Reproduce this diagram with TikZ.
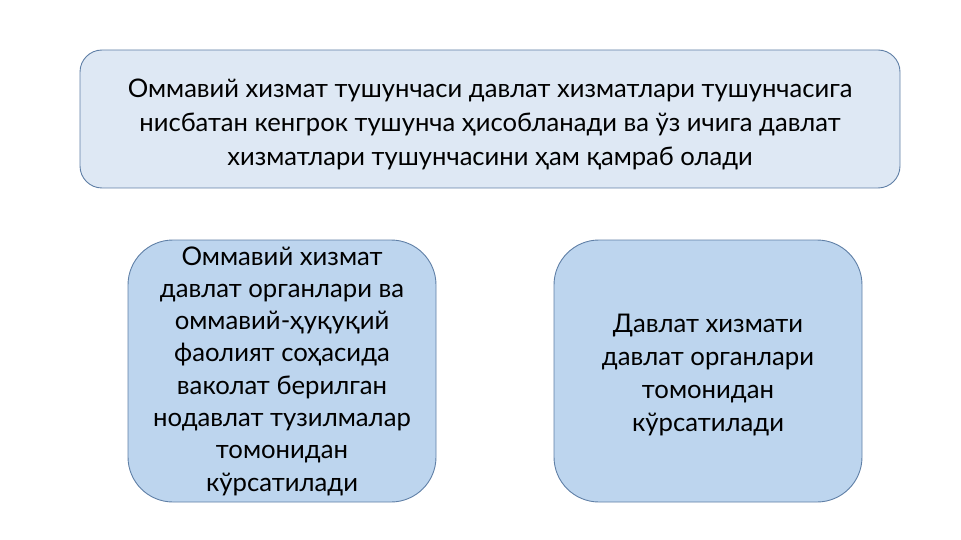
\documentclass[tikz,border=0pt]{standalone}
\usepackage{fontspec}
\setmainfont{Lato}
\usetikzlibrary{positioning}

\definecolor{topfill}{HTML}{DEE8F4}
\definecolor{boxfill}{HTML}{BDD5EE}
\definecolor{boxline}{HTML}{5F7FA6}

\tikzset{
  topbox/.style={draw=boxline, fill=topfill, line width=0.9pt, rounded corners=22pt,
    minimum width=820pt, minimum height=138pt, inner sep=0pt},
  sidebox/.style={draw=boxline, fill=boxfill, line width=0.9pt, rounded corners=45pt,
    minimum width=308pt, minimum height=262pt, inner sep=0pt},
  boxtext/.style={align=center, inner sep=0pt}
}

\begin{document}
\begin{tikzpicture}[x=1pt, y=-1pt]
\useasboundingbox (0,0) rectangle (961,540);

\node[topbox] (wide) at (490,119) {};
\node[boxtext, font=\fontsize{25.6}{34}\selectfont] at ([yshift=-5pt]wide.center) {Оммавий хизмат тушунчаси давлат хизматлари тушунчасига\\
нисбатан кенгрок тушунча ҳисобланади ва ўз ичига давлат\\
хизматлари тушунчасини ҳам қамраб олади};

\node[sidebox] (public) at (282,371) {};
\node[boxtext, font=\fontsize{25.7}{32.3}\selectfont] at (public.center) {Оммавий хизмат\\
давлат органлари ва\\
оммавий-ҳуқуқий\\
фаолият соҳасида\\
ваколат берилган\\
нодавлат тузилмалар\\
томонидан\\
кўрсатилади};

\node[sidebox] (state) at (708,371) {};
\node[boxtext, font=\fontsize{25.7}{33}\selectfont] at ([yshift=-4pt]state.center) {Давлат хизмати\\
давлат органлари\\
томонидан\\
кўрсатилади};

\end{tikzpicture}
\end{document}
